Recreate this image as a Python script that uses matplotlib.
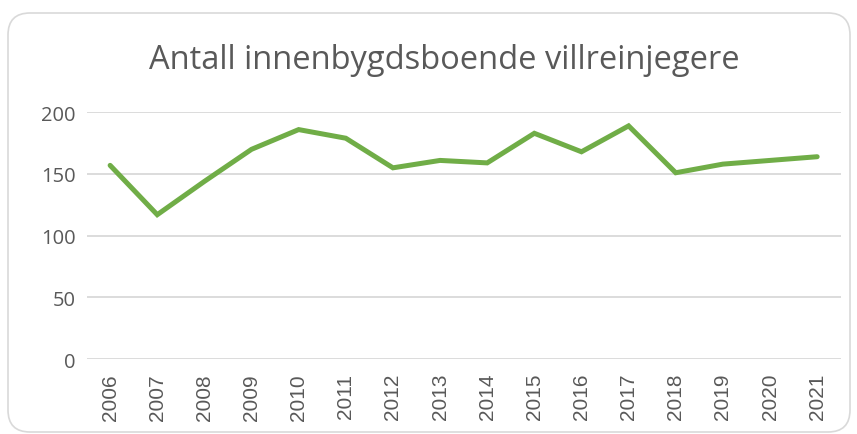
import matplotlib
matplotlib.use("Agg")
import matplotlib.pyplot as plt
from matplotlib.patches import FancyBboxPatch
from matplotlib.transforms import IdentityTransform

years = ["2006", "2007", "2008", "2009", "2010", "2011", "2012", "2013",
         "2014", "2015", "2016", "2017", "2018", "2019", "2020", "2021"]
jegere = [157, 117, 144, 170, 186, 179, 155, 161,
          159, 183, 168, 189, 151, 158, 161, 164]
yticks = [0, 50, 100, 150, 200]

grey = "#595959"

fig = plt.figure(figsize=(8.57, 4.35), dpi=100)

# rounded chart border (pixel coords)
border = FancyBboxPatch((8, 2), 842, 419, boxstyle="round,pad=0,rounding_size=22",
                        transform=IdentityTransform(), facecolor="white",
                        edgecolor="#d9d9d9", linewidth=1.2, zorder=-5)
fig.patches.append(border)

ax = fig.add_axes([0.101, 0.1724, 0.880, 0.5671])
ax.set_zorder(2)
ax.set_facecolor("none")
x = list(range(len(years)))
ax.plot(x, jegere, color="#70AD47", linewidth=3.6, solid_capstyle="round",
        solid_joinstyle="miter", zorder=3)

ax.set_xlim(-0.5, len(years) - 0.5)
ax.set_ylim(0, 200)
ax.set_yticks(yticks)
ax.set_yticklabels([str(v) for v in yticks], fontsize=14.5, color=grey,
                   family="Open Sans")
ax.set_xticks(x)
ax.set_xticklabels(years, rotation=90, fontsize=15, color=grey,
                   family="Liberation Sans")
ax.tick_params(axis="both", length=0)
ax.tick_params(axis="y", pad=8)
ax.tick_params(axis="x", pad=10)
ax.yaxis.grid(True, color="#d9d9d9", linewidth=1.3)
ax.set_axisbelow(True)
for s in ax.spines.values():
    s.set_visible(False)

fig.text(0.518, 0.862, "Antall innenbygdsboende villreinjegere", ha="center",
         va="center", fontsize=23.5, color=grey, family="Open Sans")

fig.savefig("out.png", dpi=100)
